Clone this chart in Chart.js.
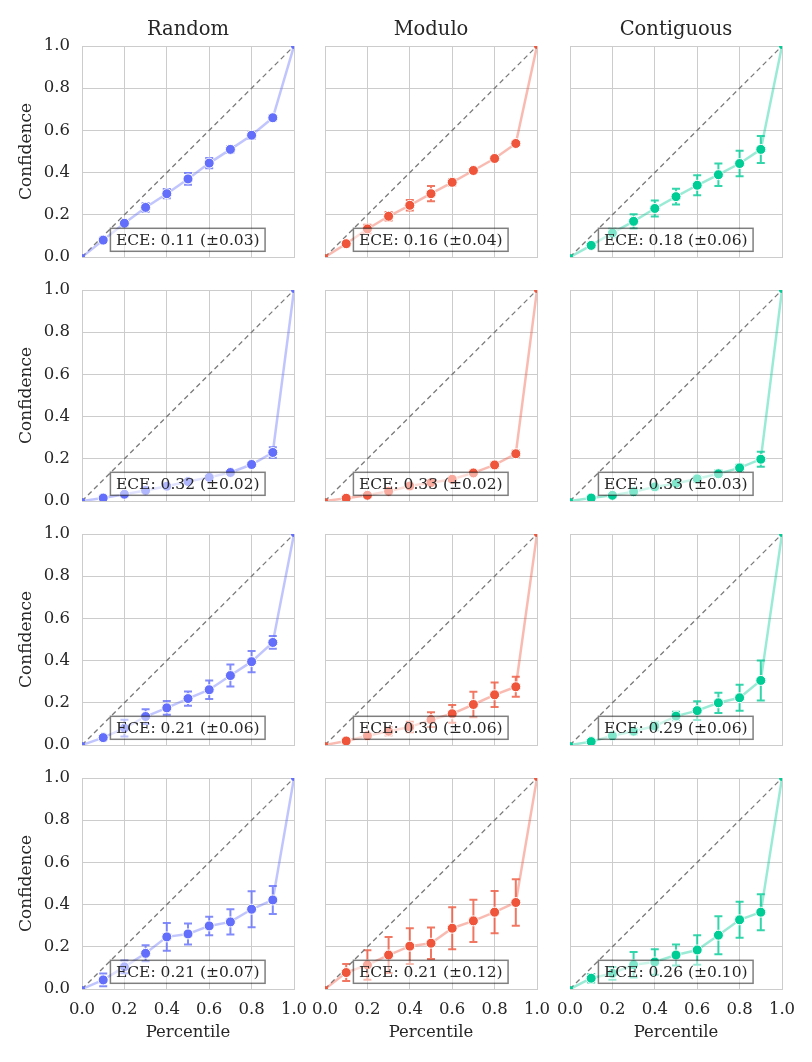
<!DOCTYPE html>
<html>
<head>
<meta charset="utf-8">
<script src="https://cdn.jsdelivr.net/npm/chart.js@4.4.1/dist/chart.umd.min.js"></script>
<style>
  html, body { margin: 0; padding: 0; background: #fff; }
  #grid { position: relative; width: 812px; height: 1062px; overflow: hidden; }
  .panel { position: absolute; }
</style>
</head>
<body>
<div id="grid"></div>
<script>
// x positions of the binned points
const percentiles = [0.1, 0.2, 0.3, 0.4, 0.5, 0.6, 0.7, 0.8, 0.9];
const axisTicks = [0, 0.2, 0.4, 0.6, 0.8, 1.0];
const methods = ['Random', 'Modulo', 'Contiguous'];

// one row per model (4 rows)
const randomConf = [
  [0.08, 0.16, 0.235, 0.30, 0.37, 0.445, 0.51, 0.577, 0.66],
  [0.014, 0.032, 0.05, 0.07, 0.092, 0.112, 0.135, 0.173, 0.23],
  [0.035, 0.08, 0.135, 0.176, 0.22, 0.262, 0.329, 0.395, 0.486],
  [0.043, 0.105, 0.169, 0.247, 0.261, 0.299, 0.318, 0.378, 0.422]
];
const randomErr = [
  [0.008, 0.01, 0.02, 0.022, 0.028, 0.024, 0.015, 0.016, 0.012],
  [0.005, 0.005, 0.008, 0.01, 0.01, 0.01, 0.012, 0.012, 0.025],
  [0.01, 0.04, 0.035, 0.033, 0.034, 0.044, 0.052, 0.05, 0.03],
  [0.03, 0.03, 0.038, 0.066, 0.05, 0.044, 0.06, 0.085, 0.066]
];
const moduloConf = [
  [0.063, 0.133, 0.193, 0.245, 0.30, 0.354, 0.41, 0.467, 0.538],
  [0.013, 0.027, 0.046, 0.071, 0.087, 0.103, 0.133, 0.171, 0.224],
  [0.019, 0.044, 0.065, 0.085, 0.12, 0.148, 0.192, 0.238, 0.276],
  [0.078, 0.114, 0.161, 0.203, 0.217, 0.288, 0.323, 0.364, 0.41]
];
const moduloErr = [
  [0.005, 0.02, 0.02, 0.025, 0.036, 0.015, 0.008, 0.008, 0.01],
  [0.004, 0.005, 0.008, 0.01, 0.01, 0.012, 0.01, 0.012, 0.015],
  [0.005, 0.01, 0.02, 0.025, 0.035, 0.042, 0.06, 0.058, 0.047],
  [0.04, 0.07, 0.085, 0.085, 0.075, 0.1, 0.1, 0.1, 0.11]
];
const contigConf = [
  [0.055, 0.114, 0.169, 0.23, 0.286, 0.34, 0.39, 0.443, 0.51],
  [0.014, 0.027, 0.044, 0.067, 0.083, 0.105, 0.129, 0.157, 0.198],
  [0.016, 0.044, 0.065, 0.09, 0.137, 0.163, 0.2, 0.224, 0.306],
  [0.051, 0.074, 0.115, 0.128, 0.161, 0.185, 0.255, 0.328, 0.364]
];
const contigErr = [
  [0.008, 0.02, 0.034, 0.038, 0.037, 0.047, 0.053, 0.06, 0.064],
  [0.004, 0.005, 0.008, 0.01, 0.012, 0.015, 0.015, 0.015, 0.036],
  [0.005, 0.01, 0.015, 0.02, 0.02, 0.044, 0.048, 0.062, 0.095],
  [0.02, 0.03, 0.06, 0.06, 0.05, 0.07, 0.09, 0.085, 0.085]
];
const eceLabels = [
  ['ECE: 0.11 (±0.03)', 'ECE: 0.16 (±0.04)', 'ECE: 0.18 (±0.06)'],
  ['ECE: 0.32 (±0.02)', 'ECE: 0.33 (±0.02)', 'ECE: 0.33 (±0.03)'],
  ['ECE: 0.21 (±0.06)', 'ECE: 0.30 (±0.06)', 'ECE: 0.29 (±0.06)'],
  ['ECE: 0.21 (±0.07)', 'ECE: 0.21 (±0.12)', 'ECE: 0.26 (±0.10)']
];

const colors = ['99, 110, 250', '239, 85, 59', '0, 204, 150'];
const confByMethod = [randomConf, moduloConf, contigConf];
const errByMethod = [randomErr, moduloErr, contigErr];

Chart.defaults.font.family = "'DejaVu Serif', serif";
Chart.defaults.color = '#262626';

// layout of the grid, in page pixels
const colLeft = [82, 325, 570];
const rowTop = [46, 290, 534, 778];
const plotW = 212, plotH = 211;
const yAxisW = 70, xAxisH = 56, padTop = 40, padRight = 30;

const errorBarPlugin = {
  id: 'errorBars',
  beforeDatasetsDraw(chart) {
    const { ctx, chartArea, scales: { x, y } } = chart;
    chart.data.datasets.forEach(ds => {
      if (!ds.errors) return;
      ctx.save();
      ctx.beginPath();
      ctx.rect(chartArea.left, chartArea.top, chartArea.width, chartArea.height);
      ctx.clip();
      ctx.strokeStyle = ds.errorColor;
      ctx.lineWidth = 2;
      ds.errors.forEach((e, i) => {
        const pt = ds.data[i + 1];
        const px = x.getPixelForValue(pt.x);
        const top = y.getPixelForValue(pt.y + e);
        const bot = y.getPixelForValue(pt.y - e);
        ctx.beginPath();
        ctx.moveTo(px, top); ctx.lineTo(px, bot);
        ctx.moveTo(px - 4, top); ctx.lineTo(px + 4, top);
        ctx.moveTo(px - 4, bot); ctx.lineTo(px + 4, bot);
        ctx.stroke();
      });
      ctx.restore();
    });
  }
};

const eceBoxPlugin = {
  id: 'eceBox',
  afterDatasetsDraw(chart, args, opts) {
    if (!opts.text) return;
    const { ctx, scales: { x, y } } = chart;
    ctx.save();
    ctx.font = opts.size + "px 'DejaVu Serif'";
    const w = ctx.measureText(opts.text).width + 2 * opts.pad;
    const left = x.getPixelForValue(opts.x);
    const bottom = y.getPixelForValue(opts.y);
    const h = opts.height;
    ctx.fillStyle = 'rgba(255,255,255,0.5)';
    ctx.fillRect(left, bottom - h, w, h);
    ctx.strokeStyle = 'rgba(0,0,0,0.5)';
    ctx.lineWidth = 1.5;
    ctx.strokeRect(left, bottom - h, w, h);
    ctx.fillStyle = '#262626';
    ctx.textBaseline = 'middle';
    ctx.fillText(opts.text, left + opts.pad, bottom - h / 2 + 1);
    ctx.restore();
  }
};

// column title, centred over the plot area
const panelTitlePlugin = {
  id: 'panelTitle',
  afterDraw(chart, args, opts) {
    if (!opts.text) return;
    const { ctx, chartArea } = chart;
    ctx.save();
    ctx.font = opts.size + "px 'DejaVu Serif'";
    ctx.fillStyle = '#262626';
    ctx.textAlign = 'center';
    ctx.textBaseline = 'alphabetic';
    ctx.fillText(opts.text, (chartArea.left + chartArea.right) / 2, chartArea.top - opts.offset);
    ctx.restore();
  }
};

const grid = document.getElementById('grid');

for (let r = 0; r < 4; r++) {
  for (let c = 0; c < 3; c++) {
    const isTop = r === 0, isBottom = r === 3, isLeft = c === 0;

    const div = document.createElement('div');
    div.className = 'panel';
    div.style.left = (colLeft[c] - yAxisW) + 'px';
    div.style.top = (rowTop[r] - padTop) + 'px';
    div.style.width = (yAxisW + plotW + padRight) + 'px';
    div.style.height = (padTop + plotH + xAxisH) + 'px';
    const canvas = document.createElement('canvas');
    div.appendChild(canvas);
    grid.appendChild(div);

    const conf = confByMethod[c][r];
    const rgb = colors[c];
    const points = [{ x: 0, y: 0 }]
      .concat(percentiles.map((p, i) => ({ x: p, y: conf[i] })))
      .concat([{ x: 1, y: 1 }]);
    const n = points.length;
    const radius = points.map((p, i) => (i === 0 || i === n - 1) ? 3 : 5);
    const border = points.map((p, i) => (i === 0 || i === n - 1) ? 0 : 1);

    new Chart(canvas, {
      type: 'scatter',
      data: {
        datasets: [
          {
            data: points,
            showLine: true,
            borderColor: `rgba(${rgb}, 0.4)`,
            borderWidth: 2.5,
            pointRadius: radius,
            pointBorderWidth: border,
            pointBorderColor: '#ffffff',
            pointBackgroundColor: `rgb(${rgb})`,
            clip: 0,
            errors: errByMethod[c][r],
            errorColor: `rgba(${rgb}, 0.8)`
          },
          {
            data: [{ x: 0, y: 0 }, { x: 1, y: 1 }],
            showLine: true,
            borderColor: '#7a7a7a',
            borderWidth: 1.3,
            borderDash: [5, 3.5],
            pointRadius: 0,
            clip: 0
          }
        ]
      },
      options: {
        responsive: true,
        maintainAspectRatio: false,
        animation: false,
        layout: { padding: { top: padTop, right: padRight, bottom: 0, left: 0 } },
        plugins: {
          legend: { display: false },
          tooltip: { enabled: false },
          title: { display: false },
          panelTitle: { text: isTop ? methods[c] : '', size: 19.5, offset: 11 },
          eceBox: { text: eceLabels[r][c], x: 0.134, y: 0.027, height: 23, pad: 5.5, size: 15.5 }
        },
        scales: {
          x: {
            type: 'linear', min: 0, max: 1,
            afterBuildTicks: s => { s.ticks = axisTicks.map(v => ({ value: v })); },
            afterFit: s => { s.height = xAxisH; },
            ticks: {
              display: isBottom, padding: 11, maxRotation: 0, autoSkip: false,
              font: { size: 16.5 }, color: '#262626',
              callback: v => v.toFixed(1)
            },
            grid: { color: '#cccccc', lineWidth: 1, drawTicks: false },
            border: { color: '#cccccc', width: 1 },
            title: {
              display: isBottom, text: 'Percentile',
              font: { size: 16.5 }, color: '#262626',
              padding: { top: 0, bottom: 2 }
            }
          },
          y: {
            type: 'linear', min: 0, max: 1,
            afterBuildTicks: s => { s.ticks = axisTicks.map(v => ({ value: v })); },
            afterFit: s => { s.width = yAxisW; },
            ticks: {
              display: isLeft, padding: 12, autoSkip: false,
              font: { size: 16.5 }, color: '#262626',
              callback: v => v.toFixed(1)
            },
            grid: { color: '#cccccc', lineWidth: 1, drawTicks: false },
            border: { color: '#cccccc', width: 1 },
            title: {
              display: isLeft, text: 'Confidence',
              font: { size: 17 }, color: '#262626',
              padding: { top: 4, bottom: 0 }
            }
          }
        }
      },
      plugins: [errorBarPlugin, eceBoxPlugin, panelTitlePlugin]
    });
  }
}
</script>
</body>
</html>
